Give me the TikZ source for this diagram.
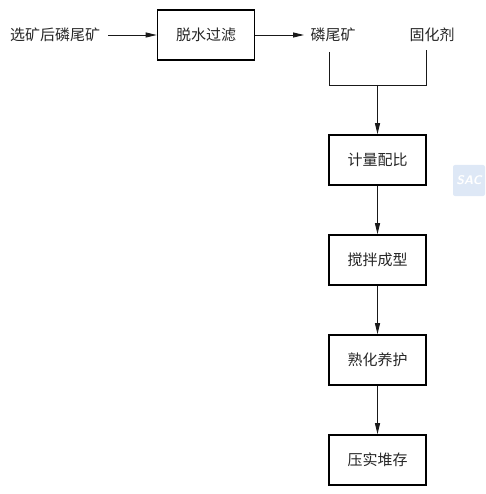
\documentclass[tikz,border=0pt]{standalone}
\usepackage{fontspec}
\newfontfamily\cjk{Noto Sans CJK SC}[Scale=1]
\usetikzlibrary{arrows.meta,calc}
\definecolor{wm}{RGB}{222,232,246}
\tikzset{
  x=1pt,y=-1pt,
  boxnode/.style={draw=black,line width=1.6pt,minimum width=97pt,minimum height=50pt,inner sep=0pt,font=\cjk\fontsize{15pt}{15pt}\selectfont,text=black!85},
  lab/.style={inner sep=0pt,font=\cjk\fontsize{15pt}{15pt}\selectfont,text=black!85},
  conn/.style={line width=0.9pt,draw=black!90},
  arr/.style={conn,-{Triangle[length=11pt,width=5pt]}},
}
\begin{document}
\begin{tikzpicture}
\useasboundingbox (0,0) rectangle (485,494);
\node[lab,anchor=center] (src) at (55,35) {选矿后磷尾矿};
\node[boxnode] (filter) at (206,35) {脱水过滤};
\node[lab] (tail) at (333,35) {磷尾矿};
\node[lab] (cure) at (432,35) {固化剂};
\node[boxnode] (meter) at (377.5,160) {计量配比};
\node[boxnode] (mix) at (377.5,260) {搅拌成型};
\node[boxnode] (age) at (377.5,360) {熟化养护};
\node[boxnode] (store) at (377.5,460) {压实堆存};
\coordinate (srcend) at (108,35);
\coordinate (tailend) at (304,35);
\coordinate (ta) at (329,52);
\coordinate (tb) at (329,85);
\coordinate (ca) at (426.5,50);
\coordinate (cb) at (426.5,85);
\coordinate (jn) at (377.5,85);
\draw[arr] (srcend) -- (filter.west);
\draw[arr] (filter.east) -- (tailend);
\draw[conn] (ta) -- (tb) -- (cb) -- (ca);
\draw[arr] (jn) -- (meter.north);
\draw[arr] (meter.south) -- (mix.north);
\draw[arr] (mix.south) -- (age.north);
\draw[arr] (age.south) -- (store.north);
\node[fill=wm,rounded corners=2pt,minimum width=32pt,minimum height=31pt,inner sep=0pt] (mark) at (469,180.5) {};
\node[inner sep=0pt,text=white,font=\sffamily\bfseries\itshape\fontsize{12.5pt}{12.5pt}\selectfont] (marktext) at (469,180) {SAC};
\end{tikzpicture}
\end{document}
